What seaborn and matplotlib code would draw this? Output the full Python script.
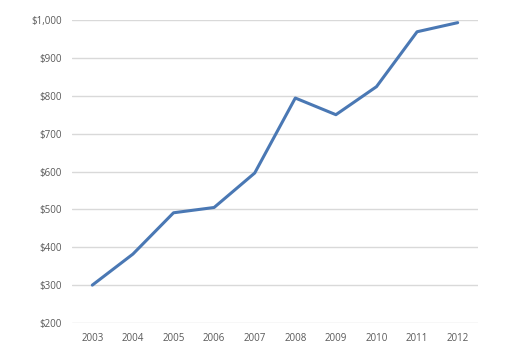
import matplotlib
matplotlib.use("Agg")
import matplotlib.pyplot as plt
import seaborn as sns
import pandas as pd
from matplotlib.ticker import FuncFormatter, MultipleLocator

years = ["2003", "2004", "2005", "2006", "2007", "2008", "2009", "2010", "2011", "2012"]
values = [300, 382, 491, 505, 596, 794, 750, 824, 969, 993]

df = pd.DataFrame({"year": years, "value": values})

sns.set_theme(style="white")
plt.rcParams['font.family'] = ['Open Sans', 'DejaVu Sans']

fig = plt.figure(figsize=(5.2, 3.56), dpi=100)
ax = fig.add_axes([0.1385, 0.0927, 0.9192 - 0.1385, 0.9438 - 0.0927])

sns.lineplot(data=df, x="year", y="value", ax=ax, color="#4A78B4", linewidth=2.2,
             sort=False)

ax.set_xlim(-0.5, len(years) - 0.5)
ax.set_ylim(200, 1000)
ax.yaxis.set_major_locator(MultipleLocator(100))
ax.yaxis.set_major_formatter(FuncFormatter(lambda v, p: f"${v:,.0f}"))
ax.grid(axis="y", color="#D9D9D9", linewidth=1.0)
ax.set_axisbelow(True)
for s in ax.spines.values():
    s.set_visible(False)
ax.tick_params(axis="both", length=0, labelsize=7, labelcolor="#595959")
ax.tick_params(axis="y", pad=7.5)
ax.tick_params(axis="x", pad=7.5)
ax.set_xlabel("")
ax.set_ylabel("")

fig.savefig("out.png", dpi=100, facecolor="white")
